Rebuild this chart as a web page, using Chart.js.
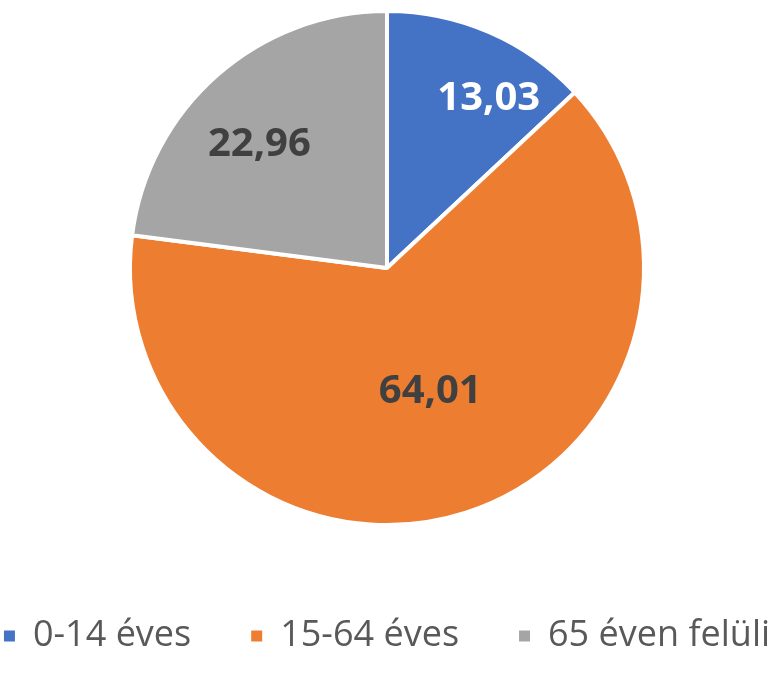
<!DOCTYPE html>
<html>
<head>
<meta charset="utf-8">
<script src="https://cdn.jsdelivr.net/npm/chart.js@4"></script>
<style>
  html, body { margin: 0; padding: 0; background: #fff; overflow: hidden; }
  #wrap { width: 782px; height: 673px; overflow: hidden; position: relative; }
  #pieChart { position: absolute; left: -113px; top: 0; }
</style>
</head>
<body>
<div id="wrap"><canvas id="pieChart" width="1000" height="673"></canvas></div>
<script>
// Age groups and their share (%)
const categories = ['0-14 éves', '15-64 éves', '65 éven felüli'];
const shares = [13.03, 64.01, 22.96];
const sliceColors = ['#4472C4', '#ED7D31', '#A5A5A5'];
const labelColors = ['#FFFFFF', '#404040', '#404040'];

// draws the value inside each slice, roughly where Excel puts it
const sliceLabels = {
  id: 'sliceLabels',
  afterDatasetsDraw(chart, args, opts) {
    const ctx = chart.ctx;
    const meta = chart.getDatasetMeta(0);
    ctx.save();
    ctx.font = 'bold 40px "Open Sans"';
    ctx.textAlign = 'center';
    ctx.textBaseline = 'middle';
    meta.data.forEach((arc, i) => {
      const p = arc.getProps(['x', 'y', 'startAngle', 'endAngle', 'outerRadius'], true);
      const mid = (p.startAngle + p.endAngle) / 2 + opts.shift[i] * Math.PI / 180;
      const r = p.outerRadius * opts.frac[i];
      const v = chart.data.datasets[0].data[i];
      ctx.fillStyle = labelColors[i];
      ctx.fillText(v.toFixed(2).replace('.', ','), p.x + Math.cos(mid) * r, p.y + Math.sin(mid) * r);
    });
    ctx.restore();
  }
};

const ctx = document.getElementById('pieChart').getContext('2d');
new Chart(ctx, {
  type: 'pie',
  data: {
    labels: categories,
    datasets: [{
      data: shares,
      backgroundColor: sliceColors,
      borderColor: '#FFFFFF',
      borderWidth: 4
    }]
  },
  options: {
    responsive: false,
    animation: false,
    layout: { padding: { top: 9, left: 0, right: 0, bottom: 9 } },
    plugins: {
      legend: {
        position: 'bottom',
        // empty title only used as a spacer above the items
        title: { display: true, text: '', font: { size: 10 }, padding: { top: 0, bottom: 19 } },
        labels: {
          boxWidth: 11,
          boxHeight: 11,
          padding: 60,
          color: '#595959',
          font: { family: '"Open Sans"', size: 36 },
          generateLabels(chart) {
            return Chart.overrides.pie.plugins.legend.labels.generateLabels(chart)
              .map(item => ({ ...item, lineWidth: 0 }));
          }
        }
      },
      tooltip: { enabled: false },
      sliceLabels: {
        frac: [0.77, 0.51, 0.69],
        shift: [7.5, -1.4, -4.7]
      }
    }
  },
  plugins: [sliceLabels]
});
</script>
</body>
</html>
